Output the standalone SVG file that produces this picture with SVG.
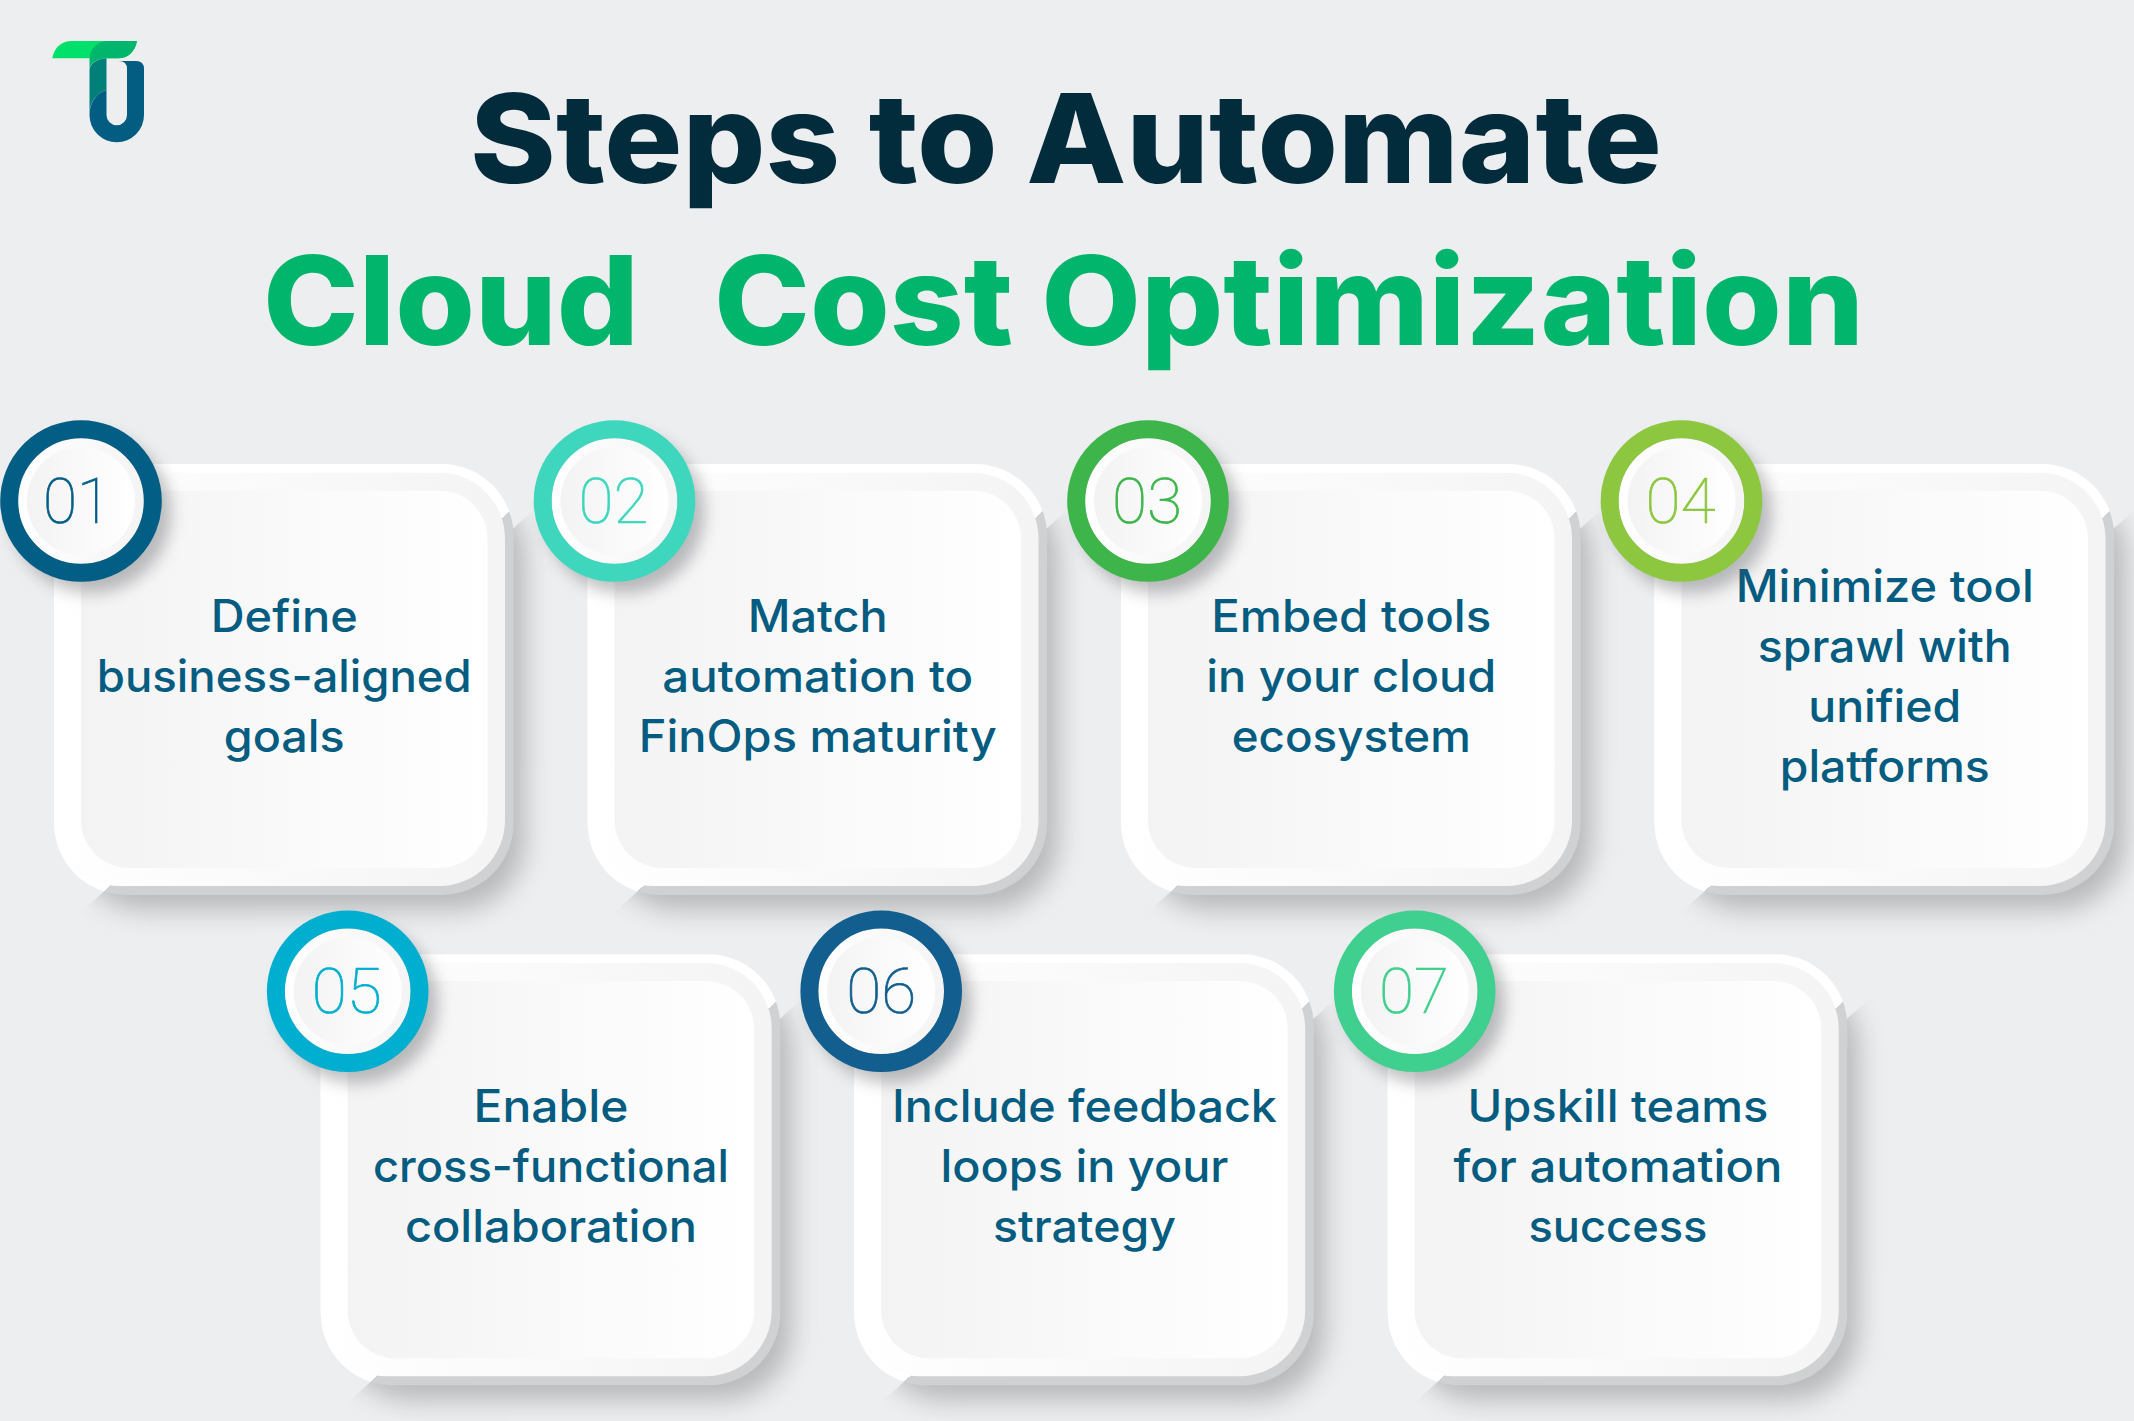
<svg xmlns="http://www.w3.org/2000/svg" width="2134" height="1421" viewBox="0 0 2134 1421">
<style>
.title{font-family:"Inter","Liberation Sans",sans-serif;font-weight:800;font-size:124px;font-variant-ligatures:none}
.body{font-family:"Inter","Liberation Sans",sans-serif;font-weight:550;font-size:44.5px;fill:#045c80;text-anchor:middle;font-variant-ligatures:none}
.num{font-family:"Roboto","Liberation Sans",sans-serif;font-weight:100;font-size:63px;text-anchor:middle;stroke-width:.7}
</style>
<defs>
<linearGradient id="gOuter" x1="0" y1="0" x2="1" y2="1"><stop offset=".55" stop-color="#ffffff"/><stop offset=".55" stop-color="#d0d1d2"/></linearGradient>
<linearGradient id="gBevel"><stop offset="0" stop-color="#ffffff"/><stop offset="1" stop-color="#f4f4f5"/></linearGradient>
<linearGradient id="gInner"><stop offset="0" stop-color="#f3f3f4"/><stop offset="1" stop-color="#ffffff"/></linearGradient>
<filter id="fCard" x="-20%" y="-20%" width="140%" height="140%"><feGaussianBlur stdDeviation="13"/></filter>
<filter id="fDisc" x="-30%" y="-30%" width="160%" height="160%"><feGaussianBlur stdDeviation="8"/></filter>
<clipPath id="cShadow"><polygon points="560,-25 660,-25 660,560 -60,560 -60,525"/></clipPath>
<g id="cardBase">
<g clip-path="url(#cShadow)"><rect x="20" y="24" width="451" height="422" rx="70" fill="#77787a" opacity=".45" filter="url(#fCard)"/></g>
<rect width="459.6" height="431" rx="72" fill="url(#gOuter)"/>
<rect y="8.7" width="451" height="413.3" rx="66" fill="url(#gBevel)"/>
<rect x="27" y="26.7" width="406.5" height="377.3" rx="48" fill="url(#gInner)"/>
</g>
<g id="discBase">
<circle cx="37" cy="49" r="80" fill="#55575a" opacity=".38" filter="url(#fDisc)"/>
<circle cx="27" cy="37" r="63" fill="url(#gBevel)"/>
<circle cx="27" cy="37" r="54" fill="url(#gInner)"/>
</g>
</defs>
<rect id="background" width="2134" height="1421" fill="#edeef0"/>
<g id="logo">
<path d="M52.3 58.3C54 48 61 41 72 41H137C135 52 128 58.3 118 58.3Z" fill="#00e06a"/>
<path d="M89.5 70V60C89.5 50 96 41 108 41H137C135 52 128 58.3 118 58.3H106C96 59 89.5 64 89.5 70Z" fill="#00b66c"/>
<path d="M89.5 70C90 64 96 59 106.5 58.3V90C96 93 89.5 103 89.5 114Z" fill="#01807a"/>
<path d="M119 61H136Q144 61 144 69V115A27.25 27.25 0 0 1 89.5 115C89.5 103 96 93 106.5 90V115A10.25 10.25 0 0 0 127 115V69Q127 61 119 61Z" fill="#035c81"/>
</g>
<g id="title">
<text class="title" x="470" y="182.7" fill="#022b3c" textLength="1192" lengthAdjust="spacingAndGlyphs">Steps to Automate</text>
<text class="title" y="345" fill="#02b56d"><tspan x="263" textLength="376" lengthAdjust="spacingAndGlyphs">Cloud</tspan><tspan x="714" textLength="1150" lengthAdjust="spacingAndGlyphs">Cost Optimization</tspan></text>
</g>
<g id="step-01" transform="translate(54,464)">
<use href="#cardBase"/>
<text class="body" x="230.25" y="168" textLength="147" lengthAdjust="spacingAndGlyphs">Define</text>
<text class="body" x="230.25" y="228" textLength="375" lengthAdjust="spacingAndGlyphs">business-aligned</text>
<text class="body" x="230.25" y="288" textLength="121" lengthAdjust="spacingAndGlyphs">goals</text>
<use href="#discBase"/>
<circle cx="27" cy="37" r="71.8" fill="none" stroke="#025e84" stroke-width="18"/>
<text class="num" x="23" y="59" fill="#025e84" stroke="#025e84" textLength="68" lengthAdjust="spacingAndGlyphs">01</text>
</g>
<g id="step-02" transform="translate(587.5,464)">
<use href="#cardBase"/>
<text class="body" x="230.25" y="168" textLength="140" lengthAdjust="spacingAndGlyphs">Match</text>
<text class="body" x="230.25" y="228" textLength="311" lengthAdjust="spacingAndGlyphs">automation to</text>
<text class="body" x="230.25" y="288" textLength="358" lengthAdjust="spacingAndGlyphs">FinOps maturity</text>
<use href="#discBase"/>
<circle cx="27" cy="37" r="71.8" fill="none" stroke="#3ed7bd" stroke-width="18"/>
<text class="num" x="26" y="59" fill="#3ed7bd" stroke="#3ed7bd" textLength="70" lengthAdjust="spacingAndGlyphs">02</text>
</g>
<g id="step-03" transform="translate(1121,464)">
<use href="#cardBase"/>
<text class="body" x="230.25" y="168" textLength="280" lengthAdjust="spacingAndGlyphs">Embed tools</text>
<text class="body" x="230.25" y="228" textLength="290" lengthAdjust="spacingAndGlyphs">in your cloud</text>
<text class="body" x="230.25" y="288" textLength="239" lengthAdjust="spacingAndGlyphs">ecosystem</text>
<use href="#discBase"/>
<circle cx="27" cy="37" r="71.8" fill="none" stroke="#3db54a" stroke-width="18"/>
<text class="num" x="26" y="59" fill="#3db54a" stroke="#3db54a" textLength="70" lengthAdjust="spacingAndGlyphs">03</text>
</g>
<g id="step-04" transform="translate(1654.5,464)">
<use href="#cardBase"/>
<text class="body" x="230.25" y="137.7" textLength="298" lengthAdjust="spacingAndGlyphs">Minimize tool</text>
<text class="body" x="230.25" y="197.7" textLength="254" lengthAdjust="spacingAndGlyphs">sprawl with</text>
<text class="body" x="230.25" y="257.7" textLength="153" lengthAdjust="spacingAndGlyphs">unified</text>
<text class="body" x="230.25" y="317.7" textLength="210" lengthAdjust="spacingAndGlyphs">platforms</text>
<use href="#discBase"/>
<circle cx="27" cy="37" r="71.8" fill="none" stroke="#8dc63f" stroke-width="18"/>
<text class="num" x="26" y="59" fill="#8dc63f" stroke="#8dc63f" textLength="70" lengthAdjust="spacingAndGlyphs">04</text>
</g>
<g id="step-05" transform="translate(320.7,954.3)">
<use href="#cardBase"/>
<text class="body" x="230.25" y="168" textLength="155" lengthAdjust="spacingAndGlyphs">Enable</text>
<text class="body" x="230.25" y="228" textLength="356" lengthAdjust="spacingAndGlyphs">cross-functional</text>
<text class="body" x="230.25" y="288" textLength="292" lengthAdjust="spacingAndGlyphs">collaboration</text>
<use href="#discBase"/>
<circle cx="27" cy="37" r="71.8" fill="none" stroke="#00afd0" stroke-width="18"/>
<text class="num" x="26" y="59" fill="#00afd0" stroke="#00afd0" textLength="70" lengthAdjust="spacingAndGlyphs">05</text>
</g>
<g id="step-06" transform="translate(854.2,954.3)">
<use href="#cardBase"/>
<text class="body" x="230.25" y="168" textLength="385" lengthAdjust="spacingAndGlyphs">Include feedback</text>
<text class="body" x="230.25" y="228" textLength="288" lengthAdjust="spacingAndGlyphs">loops in your</text>
<text class="body" x="230.25" y="288" textLength="183" lengthAdjust="spacingAndGlyphs">strategy</text>
<use href="#discBase"/>
<circle cx="27" cy="37" r="71.8" fill="none" stroke="#125f8f" stroke-width="18"/>
<text class="num" x="27" y="59" fill="#125f8f" stroke="#125f8f" textLength="70" lengthAdjust="spacingAndGlyphs">06</text>
</g>
<g id="step-07" transform="translate(1387.7,954.3)">
<use href="#cardBase"/>
<text class="body" x="230.25" y="168" textLength="301" lengthAdjust="spacingAndGlyphs">Upskill teams</text>
<text class="body" x="230.25" y="228" textLength="329" lengthAdjust="spacingAndGlyphs">for automation</text>
<text class="body" x="230.25" y="288" textLength="179" lengthAdjust="spacingAndGlyphs">success</text>
<use href="#discBase"/>
<circle cx="27" cy="37" r="71.8" fill="none" stroke="#3fcf8e" stroke-width="18"/>
<text class="num" x="26.3" y="59" fill="#3fcf8e" stroke="#3fcf8e" textLength="70" lengthAdjust="spacingAndGlyphs">07</text>
</g>
</svg>
